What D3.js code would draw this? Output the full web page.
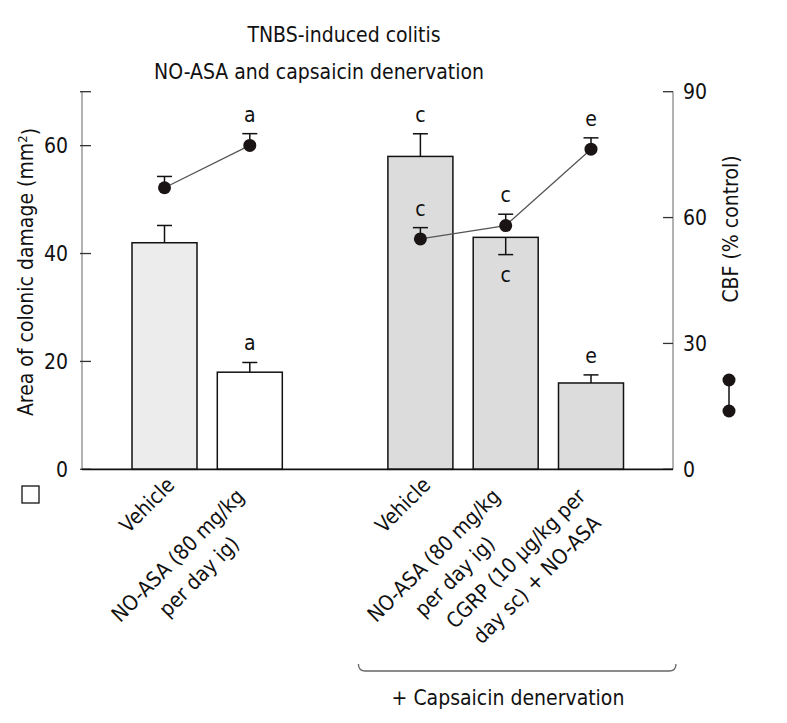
<!DOCTYPE html>
<html>
<head>
<meta charset="utf-8">
<script src="https://cdn.jsdelivr.net/npm/d3@7"></script>
<style>
  body { margin: 0; background: #fff; }
  text { font-family: "DejaVu Sans Condensed", "DejaVu Sans", sans-serif; font-stretch: condensed; fill: #111; }
</style>
</head>
<body>
<div id="chart"></div>
<script>
// data ======
const groupLabels = [
  ["Vehicle"],
  ["NO-ASA (80 mg/kg", "per day ig)"],
  ["Vehicle"],
  ["NO-ASA (80 mg/kg", "per day ig)"],
  ["CGRP (10 \u03bcg/kg per", "day sc) + NO-ASA"],
];
const slots = [0, 1, 3, 4, 5];
const condition = ["control", "noasa", "denervated", "denervated", "denervated"];
const damage = [42, 18, 58, 43, 16];
const damageErr = [3.2, 1.8, 4.2, 3.2, 1.5];
const damageErrDir = [1, 1, 1, -1, 1];
const damageSig = ["", "a", "c", "c", "e"];
const cbf = [67.1, 77.2, 54.9, 58.1, 76.3];
const cbfErr = [2.7, 2.8, 2.7, 2.7, 2.7];
const cbfSig = ["", "a", "c", "c", "e"];
const cbfLines = [[0, 1], [2, 3, 4]];
const leftTicks = [0, 20, 40, 60];
const rightTicks = [0, 30, 60, 90];

const fills = { control: "#ececec", noasa: "#ffffff", denervated: "#dcdcdc" };

const dims = { width: 787, height: 723, left: 82, right: 673, top: 91.7, bottom: 469.3 };

const svg = d3.select("#chart").append("svg")
  .attr("width", dims.width)
  .attr("height", dims.height);

//Scales ==========
const xScale = d3.scaleLinear().domain([0, 5]).range([164.5, 591]);
const yLeft = d3.scaleLinear().domain([0, 70]).range([dims.bottom, dims.top]);
const yRight = d3.scaleLinear().domain([0, 90]).range([dims.bottom, dims.top]);
const barW = 65;
const capW = 15;
const fs = "21px";

// title
svg.append("text").text("TNBS-induced colitis")
  .attr("x", 344).attr("y", 42).attr("text-anchor", "middle").style("font-size", fs);
svg.append("text").text("NO-ASA and capsaicin denervation")
  .attr("x", 319).attr("y", 79).attr("text-anchor", "middle").style("font-size", fs);

// axes lines
svg.append("line").attr("x1", dims.left).attr("x2", dims.left)
  .attr("y1", dims.top).attr("y2", dims.bottom).attr("stroke", "#999").attr("stroke-width", 1.5);
svg.append("line").attr("x1", dims.right).attr("x2", dims.right)
  .attr("y1", dims.top).attr("y2", dims.bottom).attr("stroke", "#999").attr("stroke-width", 1.5);

const lt = svg.append("g").selectAll("g").data(leftTicks.concat([70])).join("g")
  .attr("transform", d => `translate(0,${yLeft(d)})`);
lt.append("line").attr("x1", dims.left - 2).attr("x2", dims.left + 9).attr("stroke", "#333").attr("stroke-width", 1.3);
lt.filter(d => d !== 70).append("text").text(d => d)
  .attr("x", dims.left - 14).attr("dy", "0.36em").attr("text-anchor", "end").style("font-size", fs);

const rt = svg.append("g").selectAll("g").data(rightTicks).join("g")
  .attr("transform", d => `translate(0,${yRight(d)})`);
rt.append("line").attr("x1", dims.right - 10).attr("x2", dims.right).attr("stroke", "#333").attr("stroke-width", 1.3);
rt.append("text").text(d => d)
  .attr("x", dims.right + 10).attr("dy", "0.36em").style("font-size", fs);

// axis titles
const yl = svg.append("text")
  .attr("transform", `translate(33,${272}) rotate(-90)`)
  .attr("text-anchor", "middle").style("font-size", fs);
yl.append("tspan").text("Area of colonic damage (mm");
yl.append("tspan").text("2").attr("dy", "-0.5em").style("font-size", "13px");
yl.append("tspan").text(")").attr("dy", "0.5em");

svg.append("text").text("CBF (% control)")
  .attr("transform", `translate(738,${229}) rotate(-90)`)
  .attr("text-anchor", "middle").style("font-size", fs);

// bars
const idx = d3.range(damage.length);
svg.append("g").selectAll("rect").data(idx).join("rect")
  .attr("x", i => xScale(slots[i]) - barW / 2)
  .attr("width", barW)
  .attr("y", i => yLeft(damage[i]))
  .attr("height", i => yLeft(0) - yLeft(damage[i]))
  .attr("fill", i => fills[condition[i]])
  .attr("stroke", "#111").attr("stroke-width", 1.5);

// bottom axis
svg.append("line").attr("x1", dims.left).attr("x2", dims.right)
  .attr("y1", dims.bottom).attr("y2", dims.bottom).attr("stroke", "#111").attr("stroke-width", 1.8);

// bar error bars
const be = svg.append("g").attr("stroke", "#111").attr("stroke-width", 1.5);
idx.forEach(i => {
  const cx = xScale(slots[i]);
  const y0 = yLeft(damage[i]);
  const y1 = yLeft(damage[i] + damageErrDir[i] * damageErr[i]);
  be.append("line").attr("x1", cx).attr("x2", cx).attr("y1", y0).attr("y2", y1);
  be.append("line").attr("x1", cx - capW / 2).attr("x2", cx + capW / 2).attr("y1", y1).attr("y2", y1);
  if (damageSig[i]) {
    svg.append("text").text(damageSig[i])
      .attr("x", cx).attr("y", damageErrDir[i] > 0 ? y1 - 12 : y1 + 27)
      .attr("text-anchor", "middle").style("font-size", fs);
  }
});

// CBF lines
const line = d3.line().x(i => xScale(slots[i])).y(i => yRight(cbf[i]));
svg.append("g").selectAll("path").data(cbfLines).join("path")
  .attr("d", line).attr("fill", "none").attr("stroke", "#555").attr("stroke-width", 1.3);

const de = svg.append("g").attr("stroke", "#111").attr("stroke-width", 1.5);
idx.forEach(i => {
  const cx = xScale(slots[i]);
  const y0 = yRight(cbf[i]);
  const y1 = yRight(cbf[i] + cbfErr[i]);
  de.append("line").attr("x1", cx).attr("x2", cx).attr("y1", y0).attr("y2", y1);
  de.append("line").attr("x1", cx - capW / 2).attr("x2", cx + capW / 2).attr("y1", y1).attr("y2", y1);
  if (cbfSig[i]) {
    svg.append("text").text(cbfSig[i])
      .attr("x", cx).attr("y", y1 - 12)
      .attr("text-anchor", "middle").style("font-size", fs);
  }
});

svg.append("g").selectAll("circle").data(idx).join("circle")
  .attr("cx", i => xScale(slots[i]))
  .attr("cy", i => yRight(cbf[i]))
  .attr("r", 6.5).attr("fill", "#1a1414");

// x labels (rotated, centred lines)
idx.forEach(i => {
  const lines = groupLabels[i];
  const n = lines.length;
  const ax = xScale(slots[i]) + (n === 1 ? 6 : 1);
  const ay = n === 1 ? 481 : 503;
  const g = svg.append("g")
    .attr("transform", `translate(${ax},${ay}) rotate(-45)`);
  const texts = g.selectAll("text").data(lines).join("text")
    .text(d => d)
    .attr("text-anchor", "middle")
    .attr("dy", (d, k) => `${(k - (n - 1) / 2) * 1.42 + 0.36}em`)
    .style("font-size", fs);
  let w = 0;
  texts.each(function () { w = Math.max(w, this.getComputedTextLength()); });
  texts.attr("x", -w / 2);
});

// legend
svg.append("rect").attr("x", 22).attr("y", 486).attr("width", 17).attr("height", 17)
  .attr("fill", "#fff").attr("stroke", "#111").attr("stroke-width", 1.3);
const lg = svg.append("g");
lg.append("line").attr("x1", 729).attr("x2", 729).attr("y1", 380).attr("y2", 411)
  .attr("stroke", "#111").attr("stroke-width", 1.5);
lg.selectAll("circle").data([380, 411]).join("circle")
  .attr("cx", 729).attr("cy", d => d).attr("r", 6.5).attr("fill", "#1a1414");

// bracket
const bx0 = xScale(slots[2]) - 62, bx1 = dims.right + 3, by = 671;
svg.append("path")
  .attr("d", `M${bx0},${by - 7} Q${bx0},${by} ${bx0 + 7},${by} L${bx1 - 7},${by} Q${bx1},${by} ${bx1},${by - 7}`)
  .attr("fill", "none").attr("stroke", "#666").attr("stroke-width", 1.3);
svg.append("text").text("+ Capsaicin denervation")
  .attr("x", 508).attr("y", 705).attr("text-anchor", "middle").style("font-size", fs);
</script>
</body>
</html>
